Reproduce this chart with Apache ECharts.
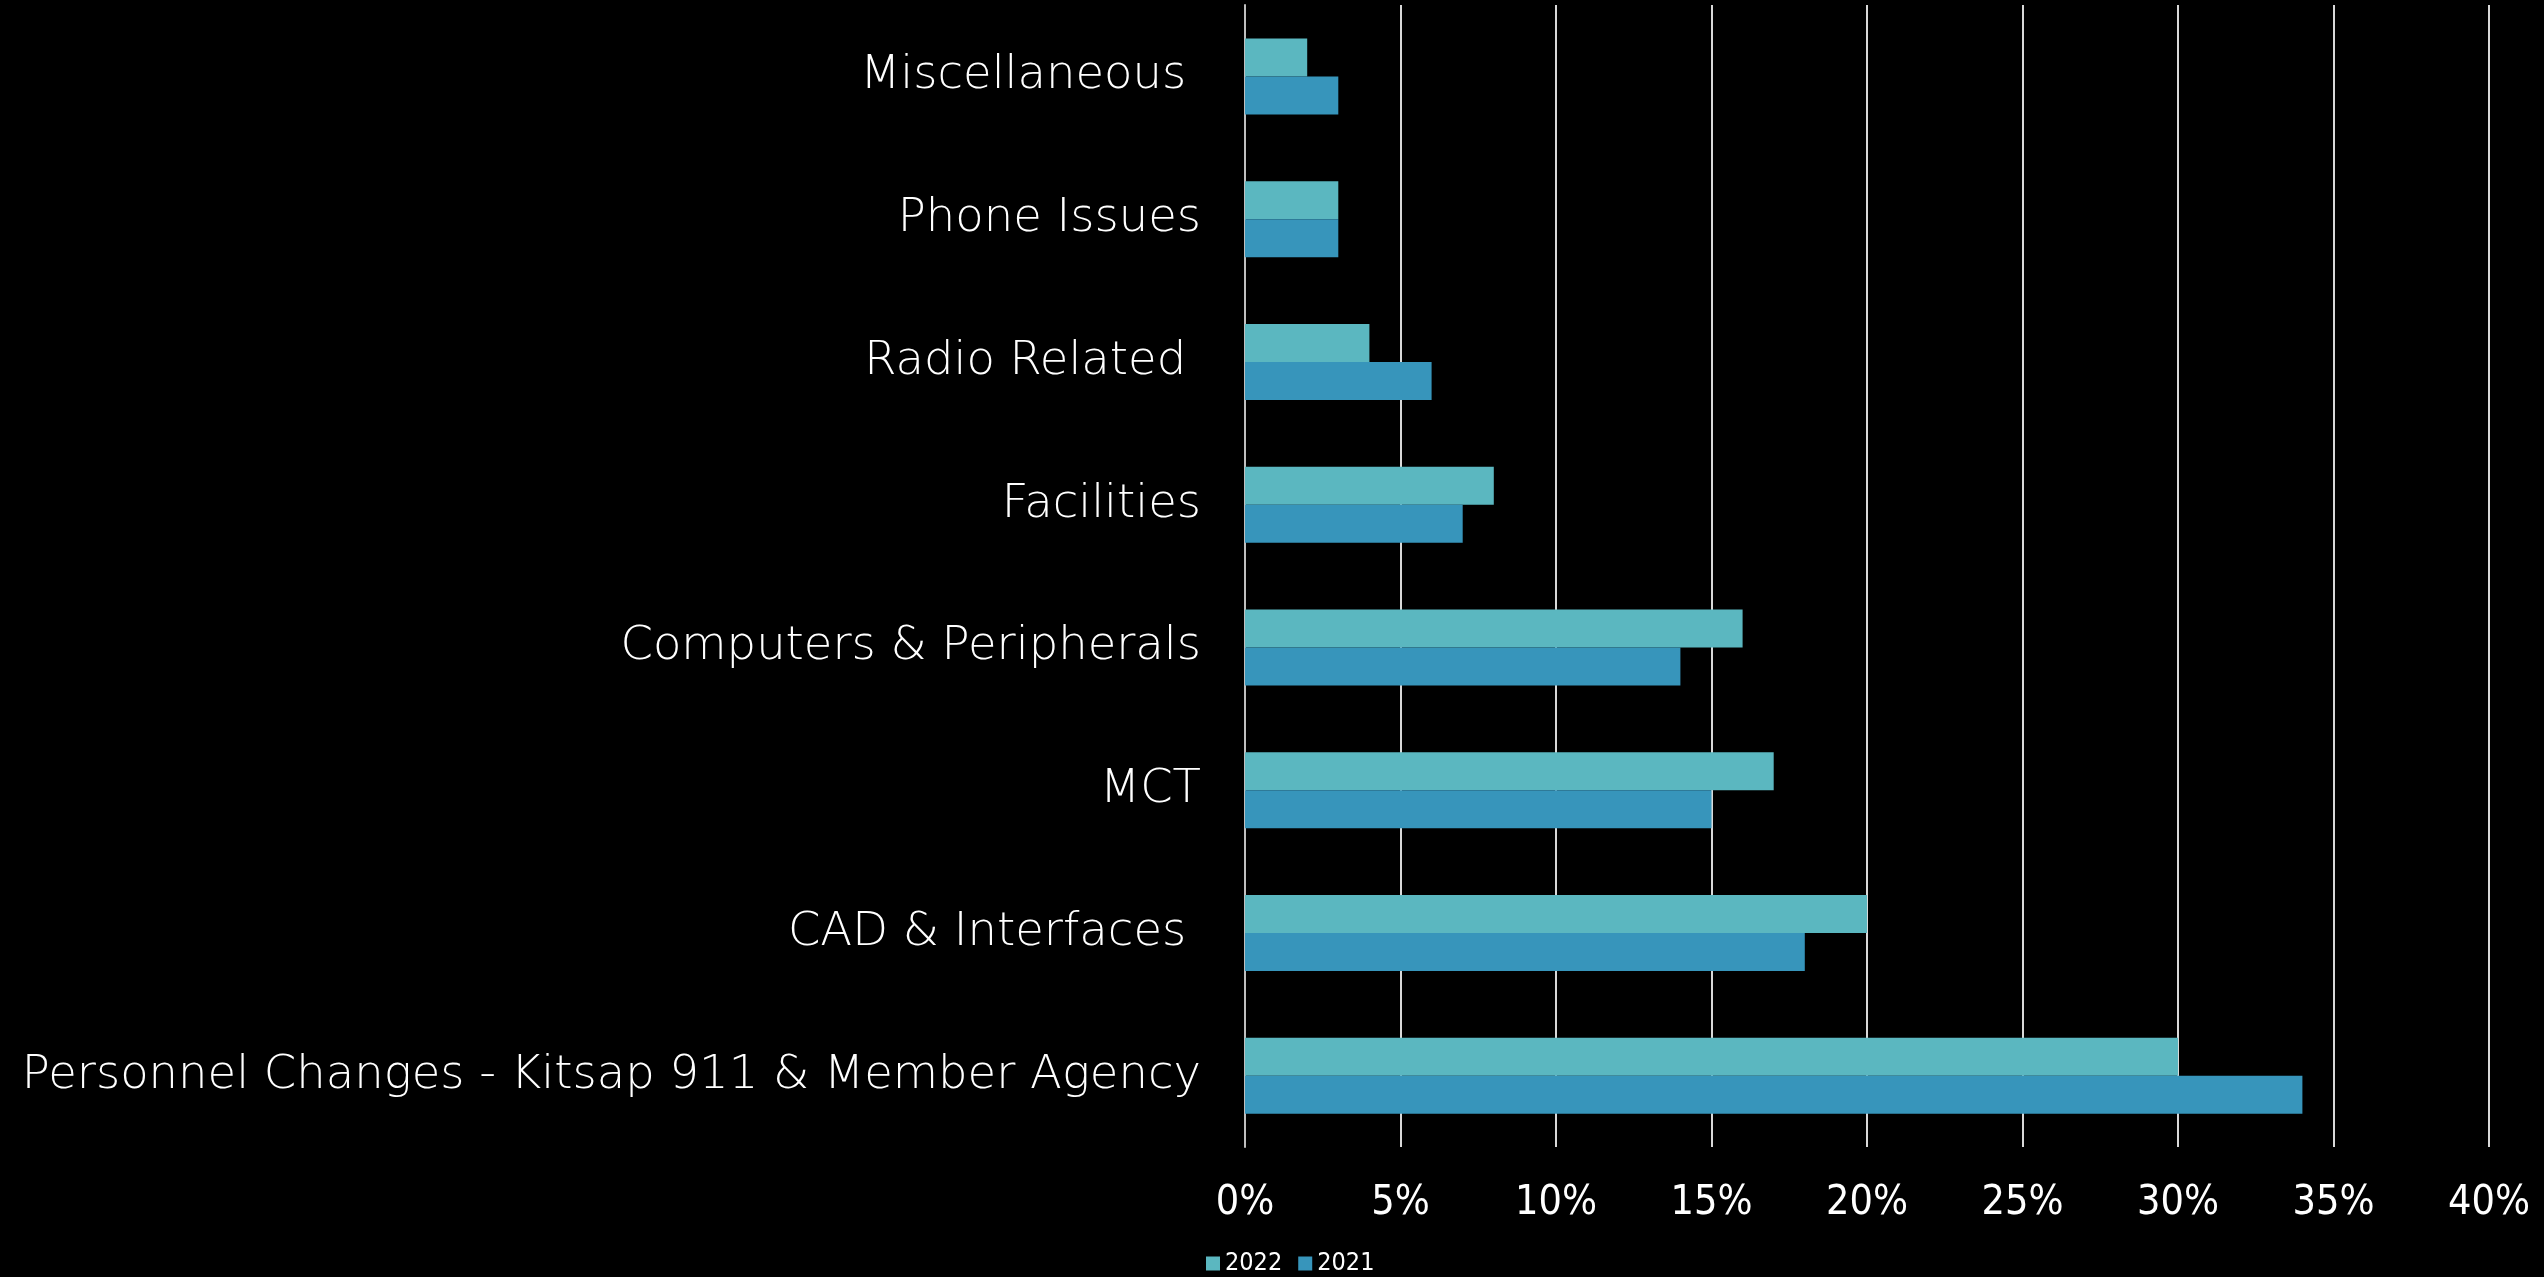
<!DOCTYPE html>
<html>
<head>
<meta charset="utf-8">
<title>Incident categories 2021 vs 2022</title>
<script src="https://cdn.jsdelivr.net/npm/echarts@6/dist/echarts.min.js"></script>
<style>
  html, body { margin: 0; padding: 0; background: #000; }
  #chart { width: 2544px; height: 1277px; }
</style>
</head>
<body>
<div id="chart"></div>
<script>
// Categories, listed from the bottom of the axis upward
const categories = [
  'Personnel Changes - Kitsap 911 & Member Agency',
  'CAD & Interfaces ',
  'MCT',
  'Computers & Peripherals',
  'Facilities',
  'Radio Related ',
  'Phone Issues',
  'Miscellaneous '
];

// Share of items per category (percent)
const values2022 = [30, 20, 17, 16, 8, 4, 3, 2];
const values2021 = [34, 18, 15, 14, 7, 6, 3, 3];

const xTicks = [0, 5, 10, 15, 20, 25, 30, 35, 40];

const color2022 = '#5BB7C0';
const color2021 = '#3795BB';

const chart = echarts.init(document.getElementById('chart'));

chart.setOption({
  backgroundColor: '#000000',
  animation: false,
  grid: { left: 1245, right: 55, top: 5, bottom: 130, containLabel: false },
  legend: {
    data: ['2022', '2021'],
    bottom: -4,
    left: 1201,
    itemWidth: 14,
    itemHeight: 14,
    itemGap: 16,
    itemTextGap: 6,
    icon: 'rect',
    textStyle: { color: '#ffffff', fontSize: 25, fontFamily: 'DejaVu Sans Condensed, Lato, sans-serif', fontWeight: 200 }
  },
  xAxis: {
    type: 'value',
    min: xTicks[0],
    max: xTicks[xTicks.length - 1],
    interval: 5,
    axisLine: { show: false },
    axisTick: { show: false },
    splitLine: { show: true, lineStyle: { color: '#d9d9d9', width: 2 } },
    axisLabel: {
      color: '#ffffff',
      fontSize: 41,
      fontFamily: 'DejaVu Sans Condensed, Lato, sans-serif',
      fontWeight: 200,
      margin: 36,
      formatter: v => v + '%'
    }
  },
  yAxis: {
    type: 'category',
    data: categories,
    axisLine: { show: true, lineStyle: { color: '#bfbfbf', width: 2 } },
    axisTick: { show: false },
    axisLabel: {
      color: '#ffffff',
      fontSize: 46.5,
      fontFamily: 'DejaVu Sans, sans-serif',
      fontWeight: 200,
      margin: 44,
      padding: [6, 0, 0, 0]
    }
  },
  series: [
    {
      name: '2022',
      type: 'bar',
      data: values2022,
      barWidth: 38,
      barGap: '0%',
      itemStyle: { color: color2022 }
    },
    {
      name: '2021',
      type: 'bar',
      data: values2021,
      barWidth: 38,
      barGap: '0%',
      itemStyle: { color: color2021 }
    }
  ]
});
</script>
</body>
</html>
